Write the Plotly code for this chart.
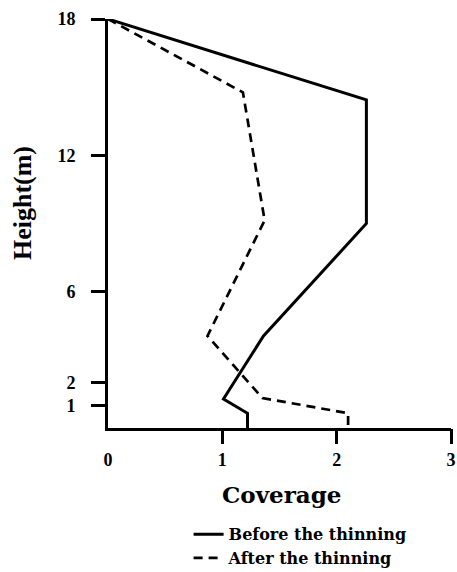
import plotly.graph_objects as go

# Data
before_coverage = [0.0, 2.26, 2.26, 1.36, 1.01, 1.22, 1.22]
before_height = [18.0, 14.44, 9.0, 4.05, 1.28, 0.65, 0.0]

after_coverage = [0.0, 1.18, 1.37, 0.87, 1.35, 2.10, 2.10]
after_height = [18.0, 14.77, 9.14, 4.05, 1.32, 0.65, 0.0]

x_tickvals = [0, 1, 2, 3]
x_ticktext = ["0", "1", "2", "3"]
x_tickmarks = [1, 2, 3]
y_tickvals = [1, 2, 6, 12, 18]
y_ticktext = ["1", "2", "6", "12", "18"]

TICKFONT = dict(family="Liberation Serif", size=18, color="black", weight="bold")

fig = go.Figure()
fig.add_trace(go.Scatter(
    x=before_coverage, y=before_height, mode="lines",
    name="Before the thinning",
    line=dict(color="black", width=3),
    cliponaxis=False,
))
fig.add_trace(go.Scatter(
    x=after_coverage, y=after_height, mode="lines",
    name="After the thinning",
    line=dict(color="black", width=2.7, dash="9px,6px"),
    cliponaxis=False,
))
# empty trace so the overlay axis carrying the tick marks gets drawn
fig.add_trace(go.Scatter(
    x=[], y=[], xaxis="x2", yaxis="y", mode="lines",
    showlegend=False, hoverinfo="skip",
))

fig.update_layout(
    width=457, height=572,
    margin=dict(l=108, r=6, t=19, b=144, autoexpand=False),
    plot_bgcolor="white", paper_bgcolor="white",
    showlegend=True,
    legend=dict(
        x=0.235, y=-0.36, xanchor="left", yanchor="bottom",
        xref="paper", yref="paper",
        font=dict(family="DejaVu Serif", size=16, color="black", weight="bold"),
        bgcolor="rgba(0,0,0,0)", tracegroupgap=0,
    ),
    annotations=[
        dict(text="Coverage", xref="paper", yref="paper", x=0.505, y=0,
             yshift=-66, xanchor="center", yanchor="middle", showarrow=False,
             font=dict(family="DejaVu Serif", size=23, color="black", weight="bold")),
        dict(text="Height(m)", xref="paper", yref="paper", x=0, y=0.55,
             xshift=-86, xanchor="center", yanchor="middle", showarrow=False,
             textangle=-90,
             font=dict(family="Liberation Serif", size=26, color="black", weight="bold")),
    ],
    xaxis=dict(
        range=[0, 3], showline=True, linewidth=3, linecolor="black",
        showgrid=False, zeroline=False, automargin=False,
        tickmode="array", tickvals=x_tickvals, ticktext=x_ticktext,
        ticks="", tickfont=TICKFONT, ticklabelstandoff=13,
    ),
    xaxis2=dict(
        overlaying="x", anchor="y", side="bottom", range=[0, 3],
        tickmode="array", tickvals=x_tickmarks, ticks="outside",
        ticklen=15, tickwidth=3, tickcolor="black",
        showticklabels=False, showline=False, showgrid=False, zeroline=False,
        automargin=False,
    ),
    yaxis=dict(
        range=[0, 18], showline=True, linewidth=3, linecolor="black",
        showgrid=False, zeroline=False, automargin=False,
        tickmode="array", tickvals=y_tickvals, ticktext=y_ticktext,
        ticks="outside", ticklen=14, tickwidth=3, tickcolor="black",
        tickfont=TICKFONT, ticklabelstandoff=12,
    ),
)

fig.write_html(
    "out.html",
    config={"displayModeBar": False},
    post_script="document.body.style.margin='0px';document.body.style.overflow='hidden';",
)
